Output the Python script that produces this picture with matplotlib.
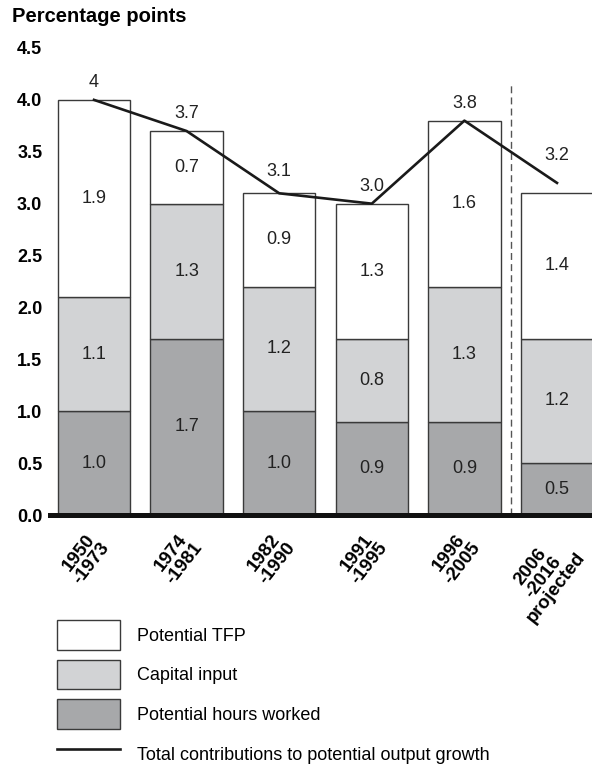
import matplotlib.pyplot as plt
from matplotlib.patches import Patch
from matplotlib.lines import Line2D
from matplotlib.transforms import ScaledTranslation

plt.rcParams['font.family'] = ['Liberation Sans', 'DejaVu Sans']

periods = ["1950\n-1973", "1974\n-1981", "1982\n-1990", "1991\n-1995", "1996\n-2005", "2006\n-2016\nprojected"]
hours = [1.0, 1.7, 1.0, 0.9, 0.9, 0.5]
capital = [1.1, 1.3, 1.2, 0.8, 1.3, 1.2]
tfp = [1.9, 0.7, 0.9, 1.3, 1.6, 1.4]
total = [4.0, 3.7, 3.1, 3.0, 3.8, 3.2]
total_labels = ["4", "3.7", "3.1", "3.0", "3.8", "3.2"]

c_hours = "#a7a8aa"
c_cap = "#d2d3d5"
c_tfp = "#ffffff"
edge = "#3a3a3a"

fig = plt.figure(figsize=(5.92, 7.66), dpi=100)
ax = fig.add_axes([50/592, 251/766, 542/592, 467/766])

x = list(range(len(periods)))
w = 0.78
ax.bar(x, hours, w, color=c_hours, edgecolor=edge, linewidth=1)
ax.bar(x, capital, w, bottom=hours, color=c_cap, edgecolor=edge, linewidth=1)
base2 = [h + c for h, c in zip(hours, capital)]
ax.bar(x, tfp, w, bottom=base2, color=c_tfp, edgecolor=edge, linewidth=1)

for i in x:
    ax.text(i, hours[i] / 2, f"{hours[i]:.1f}", ha='center', va='center', fontsize=13, color="#222")
    ax.text(i, hours[i] + capital[i] / 2, f"{capital[i]:.1f}", ha='center', va='center', fontsize=13, color="#222")
    ax.text(i, base2[i] + tfp[i] / 2, f"{tfp[i]:.1f}", ha='center', va='center', fontsize=13, color="#222")
    off = 0.26 if i == 5 else (0.21 if i == 2 else 0.17)
    ax.text(i, total[i] + off, total_labels[i], ha='center', va='center', fontsize=13, color="#222")

ax.plot(x, total, color="#1a1a1a", linewidth=1.9, zorder=5)
ax.plot([4.5, 4.5], [0, 4.15], color="#555555", linewidth=1, dashes=(5, 3))

ax.set_xlim(-0.475, 5.378)
ax.set_ylim(0, 4.5)
ax.set_yticks([0, 0.5, 1.0, 1.5, 2.0, 2.5, 3.0, 3.5, 4.0, 4.5])
ax.set_yticklabels([f"{v:.1f}" for v in ax.get_yticks()], fontsize=13, fontweight='bold')
ax.tick_params(axis='y', length=0, pad=5.5)
ax.tick_params(axis='x', length=0, pad=10)
ax.set_xticks(x)
ax.set_xticklabels(periods, rotation=52, ha='right', va='top', rotation_mode='anchor',
                   fontsize=13.5, fontweight='bold', linespacing=0.95)
shift = ScaledTranslation(-7/100, 0, fig.dpi_scale_trans)
for lab in ax.get_xticklabels():
    lab.set_multialignment('center')
    lab.set_transform(lab.get_transform() + shift)
for s in ['top', 'right', 'left']:
    ax.spines[s].set_visible(False)
ax.spines['bottom'].set_linewidth(3.6)
ax.spines['bottom'].set_color("#111")
ax.spines['bottom'].set_zorder(6)

fig.text(12/592, 1 - 17/766, "Percentage points", fontsize=14.5, fontweight='bold', va='center', ha='left')

handles = [Patch(facecolor=c_tfp, edgecolor=edge, linewidth=1),
           Patch(facecolor=c_cap, edgecolor=edge, linewidth=1),
           Patch(facecolor=c_hours, edgecolor=edge, linewidth=1),
           Line2D([0], [0], color="#1a1a1a", linewidth=1.9)]
labels = ["Potential TFP", "Capital input", "Potential hours worked",
          "Total contributions to potential output growth"]
fig.legend(handles, labels, loc='upper left', bbox_to_anchor=(41/592, 1 - 604/766), frameon=False,
           fontsize=13, handlelength=3.45, handleheight=2.15, labelspacing=0.55, handletextpad=0.95)

fig.savefig("out.png", dpi=100)
